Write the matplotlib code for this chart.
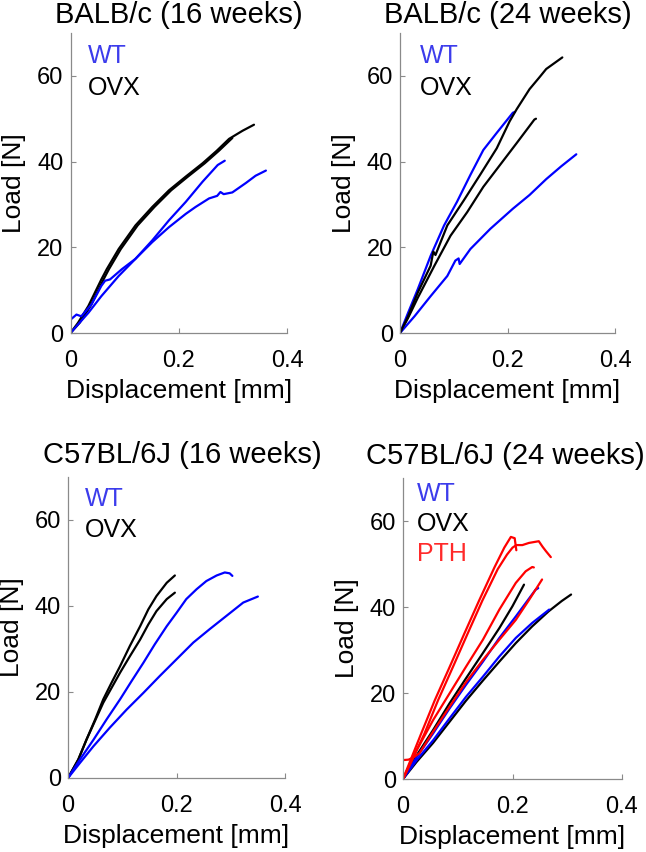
import matplotlib
matplotlib.use("Agg")
import matplotlib.pyplot as plt

plt.rcParams['font.family'] = ['Liberation Sans', 'DejaVu Sans']

# ---------------- data ----------------
titles = ["BALB/c (16 weeks)", "BALB/c (24 weeks)", "C57BL/6J (16 weeks)", "C57BL/6J (24 weeks)"]
xlabel_text = "Displacement [mm]"
ylabel_text = "Load [N]"
xticks = [0, 0.2, 0.4]
xticklabels = ['0', '0.2', '0.4']
yticks = [0, 20, 40, 60]
legend_wt = "WT"
legend_ovx = "OVX"
legend_pth = "PTH"

# Panel 1: BALB/c 16 weeks
p1_ovx1_x = [0, 0.014, 0.033, 0.057, 0.067, 0.089, 0.120, 0.151, 0.182, 0.213, 0.244, 0.270, 0.293, 0.318, 0.339]
p1_ovx1_y = [0, 2.4, 6.3, 12.5, 14.9, 19.6, 25.1, 29.4, 33.3, 36.5, 39.6, 42.5, 45.3, 47.2, 48.6]
p1_ovx2_x = [0, 0.017, 0.037, 0.061, 0.071, 0.093, 0.124, 0.155, 0.186, 0.217, 0.248, 0.274, 0.299]
p1_ovx2_y = [0, 2.4, 6.3, 12.5, 14.9, 19.6, 25.1, 29.4, 33.3, 36.5, 39.6, 42.5, 45.5]
p1_wt1_x = [0, 0.011, 0.020, 0.039, 0.057, 0.064, 0.073, 0.095, 0.120, 0.151, 0.182, 0.213, 0.231, 0.256, 0.271,
            0.277, 0.283, 0.299, 0.324, 0.342, 0.361]
p1_wt1_y = [3.1, 4.3, 3.9, 6.7, 11.0, 12.2, 12.5, 14.9, 17.3, 21.2, 24.7, 27.8, 29.4, 31.4, 32.0,
            32.9, 32.4, 32.8, 35.0, 36.7, 37.9]
p1_wt2_x = [0, 0.014, 0.033, 0.057, 0.089, 0.120, 0.151, 0.182, 0.213, 0.244, 0.272, 0.285]
p1_wt2_y = [0, 2.0, 4.7, 8.6, 13.3, 17.3, 21.6, 26.3, 30.6, 35.3, 39.2, 40.2]

# Panel 2: BALB/c 24 weeks
p2_ovx1_x = [0, 0.015, 0.033, 0.057, 0.062, 0.066, 0.088, 0.119, 0.149, 0.180, 0.204, 0.217, 0.241, 0.259, 0.272, 0.302]
p2_ovx1_y = [0, 3.9, 9.4, 15.7, 19.0, 18.2, 25.1, 31.0, 36.9, 43.1, 49.4, 52.2, 56.9, 59.6, 61.6, 64.3]
p2_ovx2_x = [0, 0.015, 0.033, 0.064, 0.094, 0.125, 0.155, 0.186, 0.217, 0.250, 0.253]
p2_ovx2_y = [0, 3.5, 8.2, 15.7, 22.7, 28.2, 34.1, 39.2, 44.3, 49.8, 50.0]
p2_wt1_x = [0, 0.015, 0.033, 0.057, 0.082, 0.106, 0.131, 0.155, 0.180, 0.210, 0.214]
p2_wt1_y = [0, 4.7, 10.2, 18.0, 25.1, 30.6, 36.9, 42.7, 46.7, 51.4, 51.6]
p2_wt2_x = [0, 0.027, 0.057, 0.088, 0.103, 0.109, 0.111, 0.131, 0.168, 0.210, 0.241, 0.272, 0.300, 0.328]
p2_wt2_y = [0, 3.9, 8.6, 13.3, 16.9, 17.4, 16.1, 19.6, 24.3, 29.0, 32.2, 35.9, 38.9, 41.7]

# Panel 3: C57BL/6J 16 weeks
p3_ovx1_x = [0, 0.019, 0.034, 0.050, 0.065, 0.080, 0.096, 0.114, 0.133, 0.148, 0.163, 0.182, 0.197]
p3_ovx1_y = [0, 4.3, 8.9, 13.6, 18.3, 22.1, 26.0, 30.7, 35.3, 39.2, 42.3, 45.4, 47.1]
p3_ovx2_x = [0, 0.019, 0.034, 0.065, 0.096, 0.114, 0.133, 0.148, 0.163, 0.182, 0.197]
p3_ovx2_y = [0, 4.3, 8.9, 17.5, 24.5, 28.3, 32.2, 35.7, 38.8, 41.6, 43.1]
p3_wt1_x = [0, 0.022, 0.047, 0.071, 0.096, 0.117, 0.139, 0.160, 0.182, 0.200, 0.218, 0.237, 0.255, 0.274,
            0.289, 0.298, 0.303]
p3_wt1_y = [0, 4.3, 8.9, 13.6, 18.3, 22.5, 26.8, 31.1, 35.3, 38.4, 41.6, 43.9, 45.8, 47.1,
            47.8, 47.6, 47.0]
p3_wt2_x = [0, 0.022, 0.047, 0.077, 0.108, 0.139, 0.169, 0.200, 0.231, 0.261, 0.292, 0.323, 0.350]
p3_wt2_y = [0, 3.5, 7.4, 11.7, 15.9, 19.8, 23.7, 27.6, 31.5, 34.6, 37.7, 40.8, 42.2]

# Panel 4: C57BL/6J 24 weeks
p4_pth1_x = [0, 0.033, 0.058, 0.085, 0.112, 0.139, 0.167, 0.185, 0.197, 0.204, 0.207]
p4_pth1_y = [0, 10.5, 18.3, 26.0, 33.8, 41.5, 49.2, 53.8, 56.3, 56.0, 53.2]
p4_pth2_x = [0, 0.039, 0.064, 0.091, 0.118, 0.145, 0.173, 0.190, 0.200, 0.207, 0.218, 0.230, 0.248, 0.255,
             0.261, 0.270]
p4_pth2_y = [0, 10.5, 18.3, 26.0, 33.8, 41.5, 48.8, 52.2, 53.8, 54.4, 54.4, 54.9, 55.3, 54.0,
             53.0, 51.6]
p4_pth3_x = [0, 0.025, 0.055, 0.085, 0.115, 0.146, 0.176, 0.206, 0.224, 0.236, 0.239]
p4_pth3_y = [0, 6.7, 13.7, 19.9, 26.1, 32.4, 39.4, 45.6, 48.3, 49.3, 49.2]
p4_pth4_x = [0, 0.010, 0.019, 0.030, 0.055, 0.085, 0.115, 0.146, 0.176, 0.206, 0.230, 0.254]
p4_pth4_y = [4.4, 4.5, 5.0, 6.0, 11.0, 16.8, 22.5, 27.7, 32.4, 37.0, 41.6, 46.4]
p4_ovx1_x = [0, 0.025, 0.055, 0.085, 0.115, 0.146, 0.176, 0.200, 0.221]
p4_ovx1_y = [0, 5.5, 11.4, 17.6, 23.4, 29.3, 35.1, 40.2, 45.2]
p4_ovx2_x = [0, 0.025, 0.055, 0.085, 0.115, 0.146, 0.176, 0.206, 0.236, 0.266, 0.290, 0.307]
p4_ovx2_y = [0, 4.0, 8.4, 13.3, 18.2, 22.9, 27.3, 31.6, 35.5, 39.0, 41.4, 42.9]
p4_wt1_x = [0, 0.025, 0.055, 0.085, 0.115, 0.146, 0.176, 0.206, 0.242, 0.247]
p4_wt1_y = [0, 5.1, 10.6, 16.4, 21.9, 27.3, 32.8, 37.8, 44.0, 44.4]
p4_wt2_x = [0, 0.025, 0.055, 0.085, 0.115, 0.146, 0.176, 0.206, 0.236, 0.267]
p4_wt2_y = [0, 4.4, 9.0, 14.1, 19.1, 23.8, 28.5, 32.8, 36.3, 39.4]

# ---------------- styling ----------------
BLUE = '#0000ff'
BLACK = '#000000'
RED = '#ff0000'
LEG_BLUE = '#3c3cec'
LEG_RED = '#ff2a2a'
SPINE = '#8a8a8a'
LW = 1.6

W, H = 646, 852
fig = plt.figure(figsize=(W / 100, H / 100), dpi=100)


def frac_box(l, r, top, bottom):
    return [l / W, 1 - bottom / H, (r - l) / W, (bottom - top) / H]


boxes = [
    frac_box(70.5, 287, 33, 333),
    frac_box(400, 615, 33, 333),
    frac_box(68, 285, 477, 778),
    frac_box(403, 622, 478, 779),
]

series = [
    [(p1_ovx1_x, p1_ovx1_y, BLACK), (p1_ovx2_x, p1_ovx2_y, BLACK),
     (p1_wt1_x, p1_wt1_y, BLUE), (p1_wt2_x, p1_wt2_y, BLUE)],
    [(p2_ovx2_x, p2_ovx2_y, BLACK), (p2_wt2_x, p2_wt2_y, BLUE),
     (p2_wt1_x, p2_wt1_y, BLUE), (p2_ovx1_x, p2_ovx1_y, BLACK)],
    [(p3_ovx1_x, p3_ovx1_y, BLACK), (p3_ovx2_x, p3_ovx2_y, BLACK),
     (p3_wt1_x, p3_wt1_y, BLUE), (p3_wt2_x, p3_wt2_y, BLUE)],
    [(p4_ovx2_x, p4_ovx2_y, BLACK), (p4_wt2_x, p4_wt2_y, BLUE),
     (p4_ovx1_x, p4_ovx1_y, BLACK), (p4_wt1_x, p4_wt1_y, BLUE),
     (p4_pth1_x, p4_pth1_y, RED), (p4_pth2_x, p4_pth2_y, RED),
     (p4_pth3_x, p4_pth3_y, RED), (p4_pth4_x, p4_pth4_y, RED)],
]

legend_offsets = [(17, -23, 32), (20, -23, 32), (17, -22, 31), (14, -16, 30)]
title_pads = [7, 7, 10, 10]
title_x = [0.499, 0.5, 0.525, 0.466]

for i, (box, ser) in enumerate(zip(boxes, series)):
    ax = fig.add_axes(box)
    for xs, ys, c in ser:
        ax.plot(xs, ys, color=c, lw=LW, solid_capstyle='round', solid_joinstyle='round')
    ax.set_xlim(0, 0.4)
    ax.set_ylim(0, 70)
    ax.set_xticks(xticks)
    ax.set_xticklabels(xticklabels)
    ax.set_yticks(yticks)
    ax.set_yticklabels([str(v) for v in yticks])
    for s in ['top', 'right']:
        ax.spines[s].set_visible(False)
    for s in ['left', 'bottom']:
        ax.spines[s].set_color(SPINE)
        ax.spines[s].set_linewidth(0.9)
    ax.tick_params(axis='both', direction='in', length=3.5, width=0.8, color=SPINE,
                   labelsize=17, labelcolor='black')
    ax.tick_params(axis='x', pad=12)
    ax.tick_params(axis='y', pad=5)
    ax.set_xlabel(xlabel_text, fontsize=19, labelpad=5)
    ax.set_ylabel(ylabel_text, fontsize=19, labelpad=8)
    ax.set_title(titles[i], fontsize=21, pad=title_pads[i], x=title_x[i])
    dx, dy, step = legend_offsets[i]
    labels = [(legend_wt, LEG_BLUE), (legend_ovx, BLACK)]
    if i == 3:
        labels.append((legend_pth, LEG_RED))
    for k, (txt, col) in enumerate(labels):
        ax.annotate(txt, xy=(0, 1), xycoords='axes fraction',
                    xytext=(dx, dy - k * step), textcoords='offset pixels',
                    ha='left', va='center', color=col, fontsize=18)

fig.savefig('out.png', dpi=100)
